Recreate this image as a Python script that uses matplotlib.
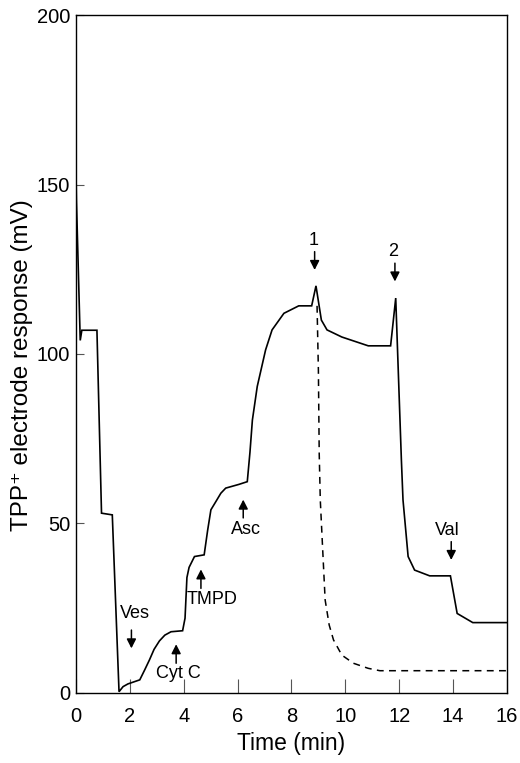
import matplotlib
matplotlib.use("Agg")
import matplotlib.pyplot as plt

plt.rcParams['font.family'] = ['Liberation Sans', 'DejaVu Sans']

# solid trace (time in min, response in mV)
time_solid = [0, 0.02, 0.16, 0.22, 0.78, 0.95, 1.35, 1.6, 1.75, 1.93, 2.37,
              2.55, 2.73, 2.9, 3.1, 3.3, 3.53, 3.96, 4.05, 4.12, 4.2, 4.4,
              4.76, 4.89, 5.01, 5.2, 5.38, 5.56, 6.05, 6.36, 6.46, 6.55, 6.73,
              7.04, 7.28, 7.72, 8.27, 8.75, 8.91, 9.11, 9.32, 9.87, 10.85,
              11.68, 11.87, 12.08, 12.14, 12.33, 12.57, 13.13, 13.9, 14.15,
              14.73, 16]
resp_solid = [155, 145, 104, 107, 107, 53, 52.5, 0.3, 1.8, 2.6, 3.8,
              6.7, 9.7, 12.8, 15.3, 17, 18, 18.3, 22, 34, 37, 40.2,
              40.7, 48, 54, 56.5, 58.9, 60.4, 61.5, 62.3, 71, 80.5, 90.4,
              101.2, 107.1, 112, 114.2, 114.2, 120.1, 110, 107.1, 105, 102.4,
              102.4, 116.5, 68.7, 56.9, 40.2, 36.2, 34.5, 34.5, 23.4,
              20.7, 20.7]

# dashed trace
time_dash = [8.95, 9.0, 9.03, 9.07, 9.13, 9.25, 9.4, 9.56, 9.87, 10.3,
             10.85, 11.28, 16]
resp_dash = [114.2, 95, 70.7, 56.9, 47, 27.4, 20, 15.6, 11.1, 8.7,
             7.2, 6.5, 6.5]

# additions marked on the trace
add_labels = ["Ves", "Cyt C", "TMPD", "Asc", "1", "2", "Val"]
# arrow tail / tip and text centre, in data units
arrow_x = [2.06, 3.72, 4.64, 6.21, 8.86, 11.84, 13.93]
arrow_tail = [18.5, 8.7, 30.8, 51.6, 130.2, 126.8, 44.6]
arrow_tip = [13.1, 14.3, 36.4, 57.0, 124.8, 121.4, 39.2]
text_xy = [(2.2, 23.3), (3.8, 5.6), (5.04, 27.4), (6.3, 48.2),
           (8.82, 133.6), (11.78, 130.2), (13.8, 47.9)]

fig = plt.figure(figsize=(5.2, 7.63), dpi=100)
ax = fig.add_axes([0.146, 0.0921, 0.829, 0.888])

ax.plot(time_solid, resp_solid, color="black", lw=1.2, solid_joinstyle="miter")
ax.plot(time_dash, resp_dash, color="black", lw=1.1, dashes=(4.5, 3.5))

for lab, x, t0, t1, (tx, ty) in zip(add_labels, arrow_x, arrow_tail,
                                     arrow_tip, text_xy):
    ax.annotate("", xy=(x, t1), xytext=(x, t0),
                arrowprops=dict(arrowstyle="-|>,head_length=0.55,head_width=0.28",
                                color="black", lw=1.1, shrinkA=0, shrinkB=0))
    ax.text(tx, ty, lab, ha="center", va="center", fontsize=13)

ax.set_xlim(0, 16)
ax.set_ylim(0, 200)
ax.set_xticks(range(0, 17, 2))
ax.set_yticks([0, 50, 100, 150, 200])
ax.tick_params(axis="x", direction="in", length=10, width=0.8, color="#555555",
               labelsize=14.5, pad=10)
ax.tick_params(axis="y", direction="in", length=6, width=0.8, color="#555555",
               labelsize=14.5, pad=4)
for s in ax.spines.values():
    s.set_linewidth(1.0)

ax.set_xlabel("Time (min)", fontsize=16.5)
ax.set_ylabel("TPP\u207a electrode response (mV)", fontsize=17.5)
# put the axis labels where the reference has them (pixel based)
ax.xaxis.set_label_coords(0.5, -(743 - 692.7) / 677.7, transform=ax.transAxes)
ax.yaxis.set_label_coords(-(76 - 22) / 431.0, (692.7 - 365) / 677.7,
                          transform=ax.transAxes)
ax.xaxis.label.set_va("center")
ax.yaxis.label.set_va("center")

fig.savefig("out.png", dpi=100)
